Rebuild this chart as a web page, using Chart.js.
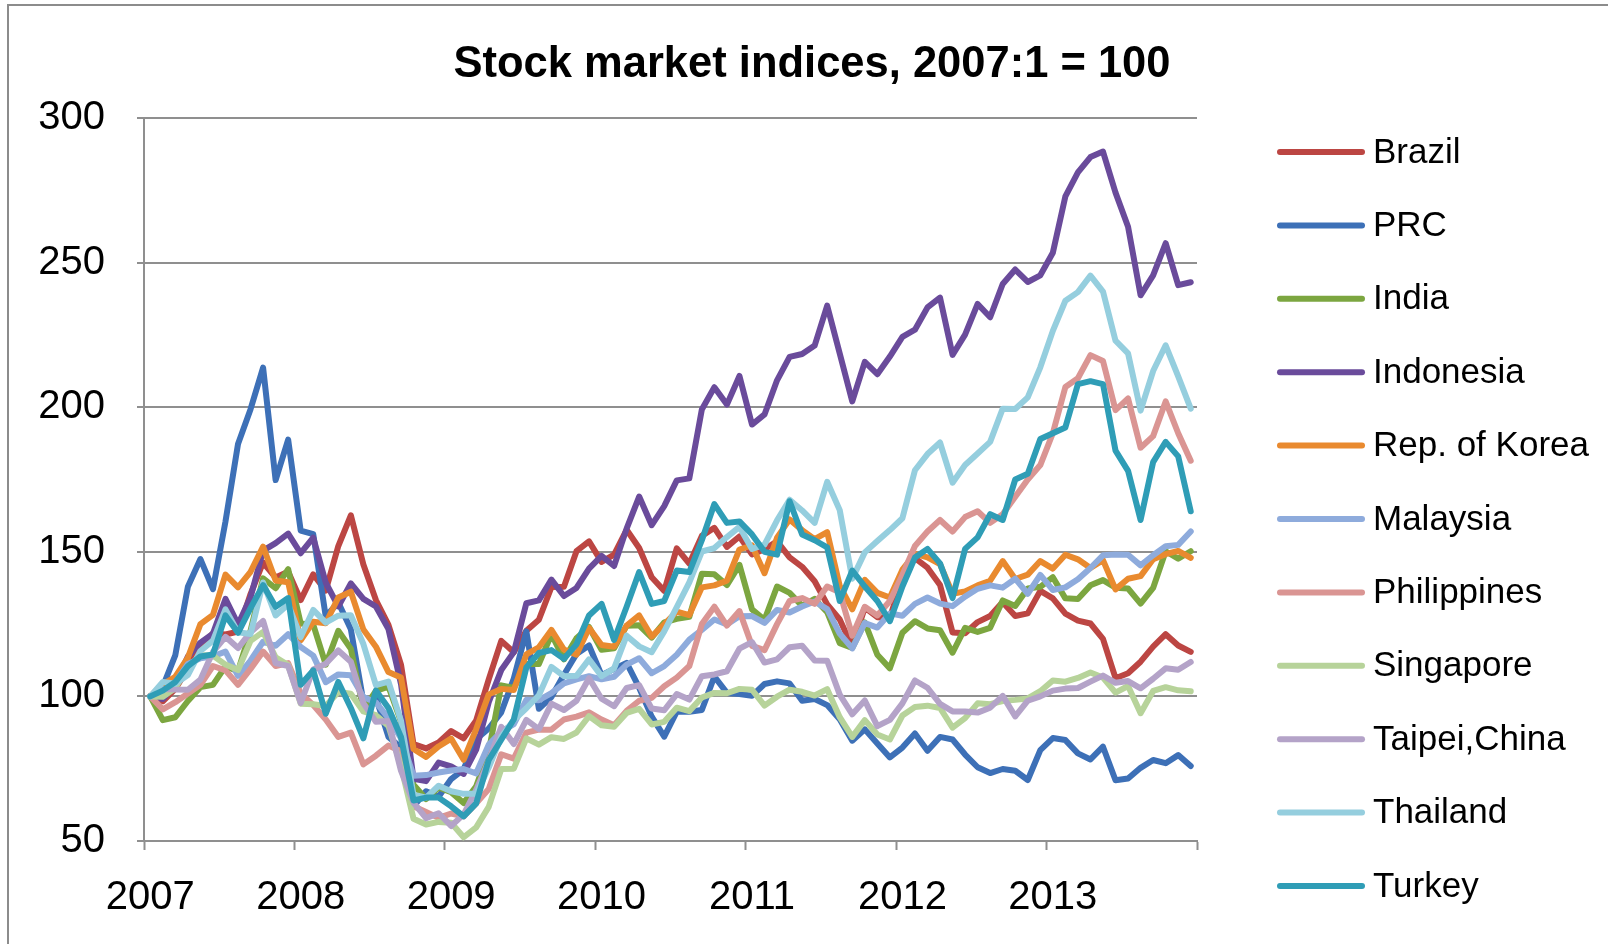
<!DOCTYPE html>
<html>
<head>
<meta charset="utf-8">
<title>Stock market indices</title>
<script src="https://cdn.jsdelivr.net/npm/chart.js@4.4.1/dist/chart.umd.min.js"></script>
<style>
  html, body { margin: 0; padding: 0; background: #fff; }
  #wrap { width: 1608px; height: 944px; }
</style>
</head>
<body>
<div id="wrap"><canvas id="chart" width="1608" height="944"></canvas></div>
<script>
// data — monthly index, 2007:1 = 100
const years = ['2007', '2008', '2009', '2010', '2011', '2012', '2013'];
const months = years.flatMap(y => Array.from({ length: 12 }, (_, m) => y + ':' + (m + 1)));
const yTicks = [50, 100, 150, 200, 250, 300];
const chartTitle = 'Stock market indices, 2007:1 = 100';

const brazil = [
  100, 98.3, 102.6, 109.7, 117.1, 121.8, 121.4, 122.4, 135.4, 146.3, 141.1, 143.1,
  133.3, 142.2, 136.6, 152.0, 162.6, 145.6, 133.3, 124.7, 111.0, 83.5, 82.0, 84.1,
  88.0, 85.5, 91.7, 105.9, 119.2, 115.3, 122.7, 126.5, 137.8, 137.9, 150.2, 153.6,
  146.5, 149.0, 157.6, 151.3, 141.2, 136.5, 151.2, 145.9, 155.5, 158.3, 151.7, 155.3,
  149.1, 150.9, 153.6, 148.1, 144.8, 139.8, 131.8, 126.6, 117.2, 130.7, 127.4, 127.1,
  141.3, 147.8, 144.5, 138.5, 122.1, 121.8, 125.7, 127.8, 132.6, 127.8, 128.7, 136.5,
  133.9, 128.6, 126.2, 125.2, 119.9, 106.3, 108.0, 112.0, 117.2, 121.5, 117.6, 115.4
];
const prc = [
  100, 103.4, 114.3, 137.9, 147.5, 137.1, 160.5, 187.3, 199.3, 213.7, 174.8, 188.8,
  157.3, 156.1, 127.6, 132.5, 123.2, 98.2, 99.6, 86.0, 82.3, 62.0, 67.2, 65.3,
  71.4, 74.8, 85.2, 88.9, 94.5, 106.2, 122.5, 95.7, 99.8, 107.5, 114.7, 117.6,
  107.3, 109.5, 111.6, 103.0, 93.0, 86.1, 94.7, 94.7, 95.3, 106.9, 101.2, 100.8,
  100.2, 104.3, 105.2, 104.5, 98.5, 99.1, 97.0, 92.1, 84.7, 88.6, 83.7, 78.9,
  82.3, 87.2, 81.2, 86.0, 85.1, 79.9, 75.5, 73.5, 74.9, 74.3, 71.1, 81.4,
  85.6, 84.9, 80.3, 78.2, 82.6, 71.0, 71.6, 75.3, 78.0, 76.9, 79.7, 75.9
];
const india = [
  100, 91.8, 92.8, 98.4, 103.2, 104.0, 110.4, 108.7, 122.7, 140.8, 137.4, 144.0,
  125.2, 124.8, 111.0, 122.7, 116.5, 95.5, 101.9, 103.4, 91.3, 69.5, 64.5, 68.5,
  66.9, 63.1, 68.9, 80.9, 103.8, 102.9, 111.2, 111.2, 121.5, 112.8, 120.1, 124.0,
  116.1, 116.6, 124.4, 124.6, 120.3, 125.6, 126.8, 127.5, 142.4, 142.2, 138.5, 145.5,
  130.1, 126.5, 138.0, 135.8, 131.3, 133.7, 129.1, 118.4, 116.8, 125.6, 114.4, 109.7,
  122.0, 126.0, 123.5, 122.9, 115.1, 123.7, 122.3, 123.7, 133.2, 131.3, 137.3, 137.9,
  141.2, 133.9, 133.7, 138.4, 140.2, 137.6, 137.3, 132.1, 137.5, 150.2, 147.6, 150.2
];
const indonesia = [
  100, 99.1, 104.2, 113.8, 118.6, 121.7, 133.7, 124.9, 134.3, 150.4, 153.0, 156.3,
  149.5, 154.9, 139.3, 131.1, 139.1, 133.7, 131.1, 123.3, 104.3, 71.5, 70.7, 77.1,
  75.8, 73.2, 81.6, 98.0, 109.1, 115.3, 132.2, 133.2, 140.4, 134.7, 137.5, 144.2,
  148.6, 145.1, 158.0, 169.1, 159.2, 165.8, 174.7, 175.4, 199.2, 206.9, 200.9, 210.8,
  194.0, 197.5, 209.3, 217.4, 218.4, 221.3, 235.1, 218.6, 202.0, 215.7, 211.4, 217.5,
  224.3, 226.8, 234.5, 237.9, 218.1, 225.1, 235.7, 231.1, 242.6, 247.6, 243.3, 245.6,
  253.4, 272.9, 281.2, 286.5, 288.4, 274.2, 262.4, 238.7, 245.6, 256.7, 242.2, 243.2
];
const korea = [
  100, 104.2, 106.8, 113.4, 125.0, 128.2, 142.1, 137.7, 143.1, 151.8, 140.1, 139.5,
  119.4, 125.8, 125.3, 134.2, 136.2, 123.1, 117.2, 108.4, 106.5, 81.8, 79.1, 82.7,
  85.4, 78.1, 88.7, 100.7, 102.6, 102.2, 114.5, 117.0, 123.0, 116.2, 114.4, 123.7,
  117.8, 117.2, 124.5, 128.0, 120.7, 124.9, 129.3, 128.1, 137.7, 138.4, 140.0, 150.8,
  152.2, 142.6, 154.9, 161.2, 157.5, 154.4, 156.8, 138.2, 130.1, 140.3, 135.8, 134.2,
  143.8, 149.3, 148.1, 145.7, 135.5, 136.3, 138.4, 140.0, 146.8, 140.6, 142.1, 146.8,
  144.2, 149.0, 147.4, 144.4, 147.1, 137.0, 140.7, 141.6, 147.4, 149.2, 150.3, 147.9
];
const malaysia = [
  100, 100.6, 104.8, 111.2, 113.2, 113.9, 115.5, 107.1, 112.4, 118.9, 117.5, 121.5,
  117.1, 114.1, 104.9, 107.6, 107.3, 99.8, 97.9, 92.5, 85.6, 72.6, 72.8, 73.7,
  74.4, 74.9, 73.4, 83.3, 87.8, 90.4, 98.8, 98.7, 101.1, 104.5, 105.9, 107.0,
  105.9, 106.8, 111.0, 113.2, 108.0, 110.5, 114.4, 119.6, 123.0, 126.6, 124.9, 127.7,
  127.8, 125.4, 129.9, 129.0, 131.1, 132.8, 130.2, 121.7, 116.6, 125.4, 123.8, 128.7,
  127.9, 132.0, 134.2, 132.1, 131.2, 134.5, 137.2, 138.4, 137.6, 140.7, 135.5, 142.0,
  136.8, 137.7, 140.5, 144.4, 148.8, 149.1, 149.0, 145.3, 148.8, 151.9, 152.4, 157.0
];
const philippines = [
  100, 95.5, 98, 101, 104, 110.5, 109, 104, 109.5, 115.5, 110.5, 111.5,
  101, 97, 92, 86, 87.5, 76.5, 79.5, 83, 81, 62, 60, 58,
  59.5, 58.5, 63, 68, 80, 78.5, 87.5, 88.5, 88.5, 92, 93, 94.5,
  92, 90, 95, 98.5, 99.5, 103.5, 106.5, 110.5, 125, 131, 124.5, 129.5,
  117.5, 116, 125, 133, 134, 132, 138, 136, 121, 131, 128, 133,
  142, 152, 157, 161, 157, 162, 164, 160, 163, 169, 175, 180,
  191, 207, 210, 218, 216, 199, 203, 186, 190, 202, 191, 181.5
];
const singapore = [
  100, 99.9, 102.9, 110.0, 114.2, 114.1, 111.0, 109.1, 119.2, 122.3, 113.5, 110.8,
  97.5, 97.3, 96.7, 101.5, 100.9, 94.8, 93.5, 89.8, 75.9, 57.7, 55.7, 56.6,
  56.3, 51.3, 54.7, 61.8, 74.9, 75.0, 85.5, 83.3, 85.9, 85.3, 87.5, 93.2,
  90.0, 89.5, 94.3, 95.7, 90.3, 91.2, 96.1, 94.9, 99.6, 101.2, 101.1, 102.6,
  102.3, 96.8, 99.9, 102.3, 101.6, 100.3, 102.5, 92.8, 86.0, 91.8, 86.8, 85.1,
  93.4, 96.3, 96.8, 96.0, 89.2, 92.5, 97.6, 97.3, 98.4, 98.8, 99.3, 101.8,
  105.5, 105.1, 106.4, 108.3, 106.5, 101.3, 103.6, 94.2, 101.9, 103.2, 102.1, 101.8
];
const taipei = [
  100, 102.6, 102.4, 102.3, 105.8, 115.4, 120.6, 116.7, 122.2, 126.1, 111.5, 110.5,
  97.7, 109.3, 111.3, 115.9, 112.0, 97.7, 91.2, 91.5, 74.3, 63.3, 57.9, 59.6,
  55.2, 59.2, 67.7, 77.8, 89.5, 83.5, 91.9, 88.7, 97.5, 95.3, 98.5, 106.3,
  99.2, 96.6, 102.9, 103.9, 95.8, 95.2, 100.8, 98.9, 107.0, 107.6, 108.7, 116.5,
  118.8, 111.7, 112.8, 117.0, 117.5, 112.4, 112.3, 100.6, 93.8, 98.6, 89.7, 91.9,
  97.6, 105.5, 103.0, 97.4, 94.8, 94.8, 94.4, 96.1, 100.2, 93.1, 98.5, 100.0,
  102.0, 102.7, 102.9, 105.1, 107.2, 104.7, 105.3, 102.8, 106.1, 109.7, 109.2, 111.9
];
const thailand = [
  100, 105.0, 104.4, 107.4, 115.7, 119.3, 130.1, 122.2, 121.6, 139.4, 128.0, 131.8,
  120.5, 129.9, 125.5, 127.9, 128.1, 118.1, 103.9, 105.1, 91.6, 66.0, 65.0, 69.1,
  67.2, 66.3, 66.3, 75.4, 86.1, 91.8, 95.9, 100.4, 110.2, 107.0, 107.1, 112.8,
  107.0, 109.7, 121.0, 117.3, 115.3, 122.5, 130.9, 139.4, 150.1, 151.3, 155.1, 158.6,
  151.0, 152.5, 160.9, 168.0, 164.3, 160.0, 174.2, 164.4, 140.7, 149.8, 153.7, 157.5,
  161.6, 178.2, 183.8, 187.8, 173.9, 180.0, 184.0, 188.0, 199.5, 199.4, 203.4, 213.8,
  226.4, 236.8, 239.8, 245.5, 240.0, 223.0, 218.6, 198.8, 212.5, 221.4, 210.7, 199.5
];
const turkey = [
  100, 102, 105, 110.5, 113.8, 114.5, 128, 122, 130.5, 138.5, 131, 134,
  104, 109, 94, 105, 96, 85.5, 102, 96, 86, 64, 65, 65,
  62, 58.5, 63, 78, 85, 92, 110, 115, 116, 113, 118, 128,
  132, 119.5, 131, 143, 132, 133, 143.5, 143, 154, 166.5, 160, 160.5,
  156, 150, 149, 167.5, 156, 154, 151.5, 133, 143.5, 138, 133, 126,
  138, 148, 151, 146, 134, 151, 155, 163, 161, 175, 177, 189,
  191, 193, 208, 209, 208, 185, 178, 161, 181, 188, 183, 164
];

const seriesNames = ['Brazil', 'PRC', 'India', 'Indonesia', 'Rep. of Korea', 'Malaysia',
  'Philippines', 'Singapore', 'Taipei,China', 'Thailand', 'Turkey'];
const seriesValues = [brazil, prc, india, indonesia, korea, malaysia,
  philippines, singapore, taipei, thailand, turkey];
const seriesColors = ['#BC4643', '#3D70B7', '#7CA640', '#6A4B9B', '#E98A2F', '#8EABDC',
  '#DA9593', '#B7D39A', '#B4A3C8', '#95CEDE', '#2F9DB6'];

const FONT = "'Liberation Sans', Arial, sans-serif";
const GRID = '#8f8f8f';

// white background, frame and title
const framePlugin = {
  id: 'frame',
  beforeDraw(chart) {
    const ctx = chart.ctx;
    ctx.save();
    ctx.fillStyle = '#fff';
    ctx.fillRect(0, 0, chart.width, chart.height);
    ctx.strokeStyle = '#8c8c8c';
    ctx.lineWidth = 2;
    ctx.beginPath();
    ctx.moveTo(8, chart.height);
    ctx.lineTo(8, 5);
    ctx.lineTo(chart.width, 5);
    ctx.stroke();
    ctx.fillStyle = '#000';
    ctx.font = 'bold 43.5px ' + FONT;
    ctx.textAlign = 'center';
    ctx.textBaseline = 'middle';
    ctx.fillText(chartTitle, 812, 65);
    ctx.restore();
  }
};

// legend beside the plot
const sideLegend = {
  id: 'sideLegend',
  afterDraw(chart) {
    const ctx = chart.ctx;
    ctx.save();
    chart.data.datasets.forEach((ds, i) => {
      const y = 152 + i * 73.4;
      ctx.strokeStyle = ds.borderColor;
      ctx.lineWidth = 6;
      ctx.lineCap = 'round';
      ctx.beginPath();
      ctx.moveTo(1280, y);
      ctx.lineTo(1362, y);
      ctx.stroke();
      ctx.fillStyle = '#000';
      ctx.font = '35px ' + FONT;
      ctx.textAlign = 'left';
      ctx.textBaseline = 'middle';
      ctx.fillText(ds.label, 1373, y + 1);
    });
    ctx.restore();
  }
};

const datasets = seriesNames.map((name, i) => ({
  label: name,
  data: seriesValues[i],
  borderColor: seriesColors[i],
  backgroundColor: seriesColors[i],
  borderWidth: 6,
  pointRadius: 0,
  tension: 0,
  borderJoinStyle: 'round',
  borderCapStyle: 'round',
  order: seriesNames.length - i
}));

new Chart(document.getElementById('chart'), {
  type: 'line',
  data: { labels: months, datasets },
  plugins: [framePlugin, sideLegend],
  options: {
    responsive: false,
    animation: false,
    devicePixelRatio: 1,
    layout: { padding: { left: 16, right: 411, top: 118, bottom: 0 } },
    plugins: {
      legend: { display: false },
      tooltip: { enabled: false },
      title: { display: false }
    },
    scales: {
      x: {
        type: 'category',
        offset: true,
        afterFit(scale) { scale.height = 103; },
        grid: {
          offset: true,
          drawOnChartArea: false,
          drawTicks: true,
          tickLength: 9,
          tickWidth: 2,
          tickColor: c => (c.index === undefined || c.index % 12 === 0) ? GRID : 'rgba(0,0,0,0)'
        },
        border: { display: true, color: GRID, width: 2 },
        ticks: {
          autoSkip: false,
          maxRotation: 0,
          minRotation: 0,
          padding: 24,
          color: '#000',
          font: { family: FONT, size: 40 },
          callback: (v, i) => (i % 12 === 0 ? years[i / 12] : '')
        }
      },
      y: {
        min: 50,
        max: 300,
        afterFit(scale) { scale.width = 128; },
        afterBuildTicks(scale) { scale.ticks = yTicks.map(v => ({ value: v })); },
        grid: { color: GRID, lineWidth: 2, tickLength: 7, tickColor: GRID },
        border: { display: true, color: GRID, width: 2 },
        ticks: {
          padding: 32,
          color: '#000',
          font: { family: FONT, size: 40 }
        }
      }
    }
  }
});
</script>
</body>
</html>
